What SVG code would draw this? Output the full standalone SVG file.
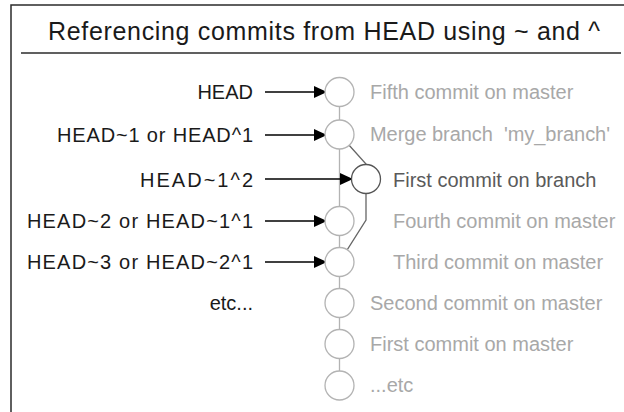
<svg xmlns="http://www.w3.org/2000/svg" width="624" height="412" viewBox="0 0 624 412">
<style>
.frame{fill:none;stroke:#2b2b2b;stroke-width:1.5}
.lbl{font-family:"Liberation Sans",Arial,sans-serif;font-size:20px;fill:#1a1a1a;text-anchor:end}
.cm{font-family:"Liberation Sans",Arial,sans-serif;font-size:20px;fill:#a8a8a8}
.cmd{font-family:"Liberation Sans",Arial,sans-serif;font-size:20px;fill:#5a5a5a}
.title{font-family:"Liberation Sans",Arial,sans-serif;font-size:25px;fill:#1a1a1a}
.node{fill:#fff;stroke:#b3b3b3;stroke-width:1.3}
.noded{fill:#fff;stroke:#555;stroke-width:1.3}
.trunk{fill:none;stroke:#b3b3b3;stroke-width:1.3}
.branch{fill:none;stroke:#666;stroke-width:1.3}
.arrow{stroke:#000;stroke-width:1.3;fill:none;marker-end:url(#ah)}
</style>
<defs>
<marker id="ah" markerUnits="userSpaceOnUse" markerWidth="14" markerHeight="12" refX="13" refY="6" orient="auto">
<path d="M0,0 L13,6 L0,12 Z" fill="#000"/>
</marker>
</defs>
<rect class="frame" x="11" y="5" width="700" height="500"/>
<g id="title">
<text class="title" x="48" y="40" textLength="552" lengthAdjust="spacing">Referencing commits from HEAD using ~ and ^</text>
<line x1="21" y1="53" x2="621" y2="53" stroke="#2b2b2b" stroke-width="1.5"/>
</g>
<g id="connectors">
<line class="trunk" x1="339.5" y1="92" x2="339.5" y2="386"/>
<path class="branch" d="M339.5,134.5 L366,164 L366,220 L339.5,262"/>
<line class="arrow" x1="265" y1="92" x2="327" y2="92"/>
<line class="arrow" x1="265" y1="135" x2="327" y2="135"/>
<line class="arrow" x1="265" y1="179" x2="353" y2="179"/>
<line class="arrow" x1="265" y1="221" x2="327" y2="221"/>
<line class="arrow" x1="265" y1="262" x2="327" y2="262"/>
</g>
<g id="c5"><circle class="node" cx="339.5" cy="92" r="14.5"/><text class="cm" x="370" y="99">Fifth commit on master</text></g>
<g id="merge"><circle class="node" cx="339.5" cy="134.5" r="14.5"/><text class="cm" x="370" y="141" style="white-space:pre" textLength="240" lengthAdjust="spacing">Merge branch  'my_branch'</text></g>
<g id="b1"><circle class="noded" cx="366" cy="179" r="14.5"/><text class="cmd" x="393" y="187">First commit on branch</text></g>
<g id="c4"><circle class="node" cx="339.5" cy="221" r="14.5"/><text class="cm" x="393" y="228">Fourth commit on master</text></g>
<g id="c3"><circle class="node" cx="339.5" cy="262" r="14.5"/><text class="cm" x="393" y="269">Third commit on master</text></g>
<g id="c2"><circle class="node" cx="339.5" cy="303" r="14.5"/><text class="cm" x="370" y="310">Second commit on master</text></g>
<g id="c1"><circle class="node" cx="339.5" cy="344" r="14.5"/><text class="cm" x="370" y="351">First commit on master</text></g>
<g id="c0"><circle class="node" cx="339.5" cy="385.5" r="14.5"/><text class="cm" x="370" y="392">...etc</text></g>
<g id="labels">
<text class="lbl" x="253" y="99">HEAD</text>
<text class="lbl" x="253" y="142" textLength="196" lengthAdjust="spacing">HEAD~1 or HEAD^1</text>
<text class="lbl" x="253" y="187" textLength="113" lengthAdjust="spacing">HEAD~1^2</text>
<text class="lbl" x="253" y="228" textLength="226" lengthAdjust="spacing">HEAD~2 or HEAD~1^1</text>
<text class="lbl" x="253" y="269" textLength="226" lengthAdjust="spacing">HEAD~3 or HEAD~2^1</text>
<text class="lbl" x="253" y="310">etc...</text>
</g>
</svg>
